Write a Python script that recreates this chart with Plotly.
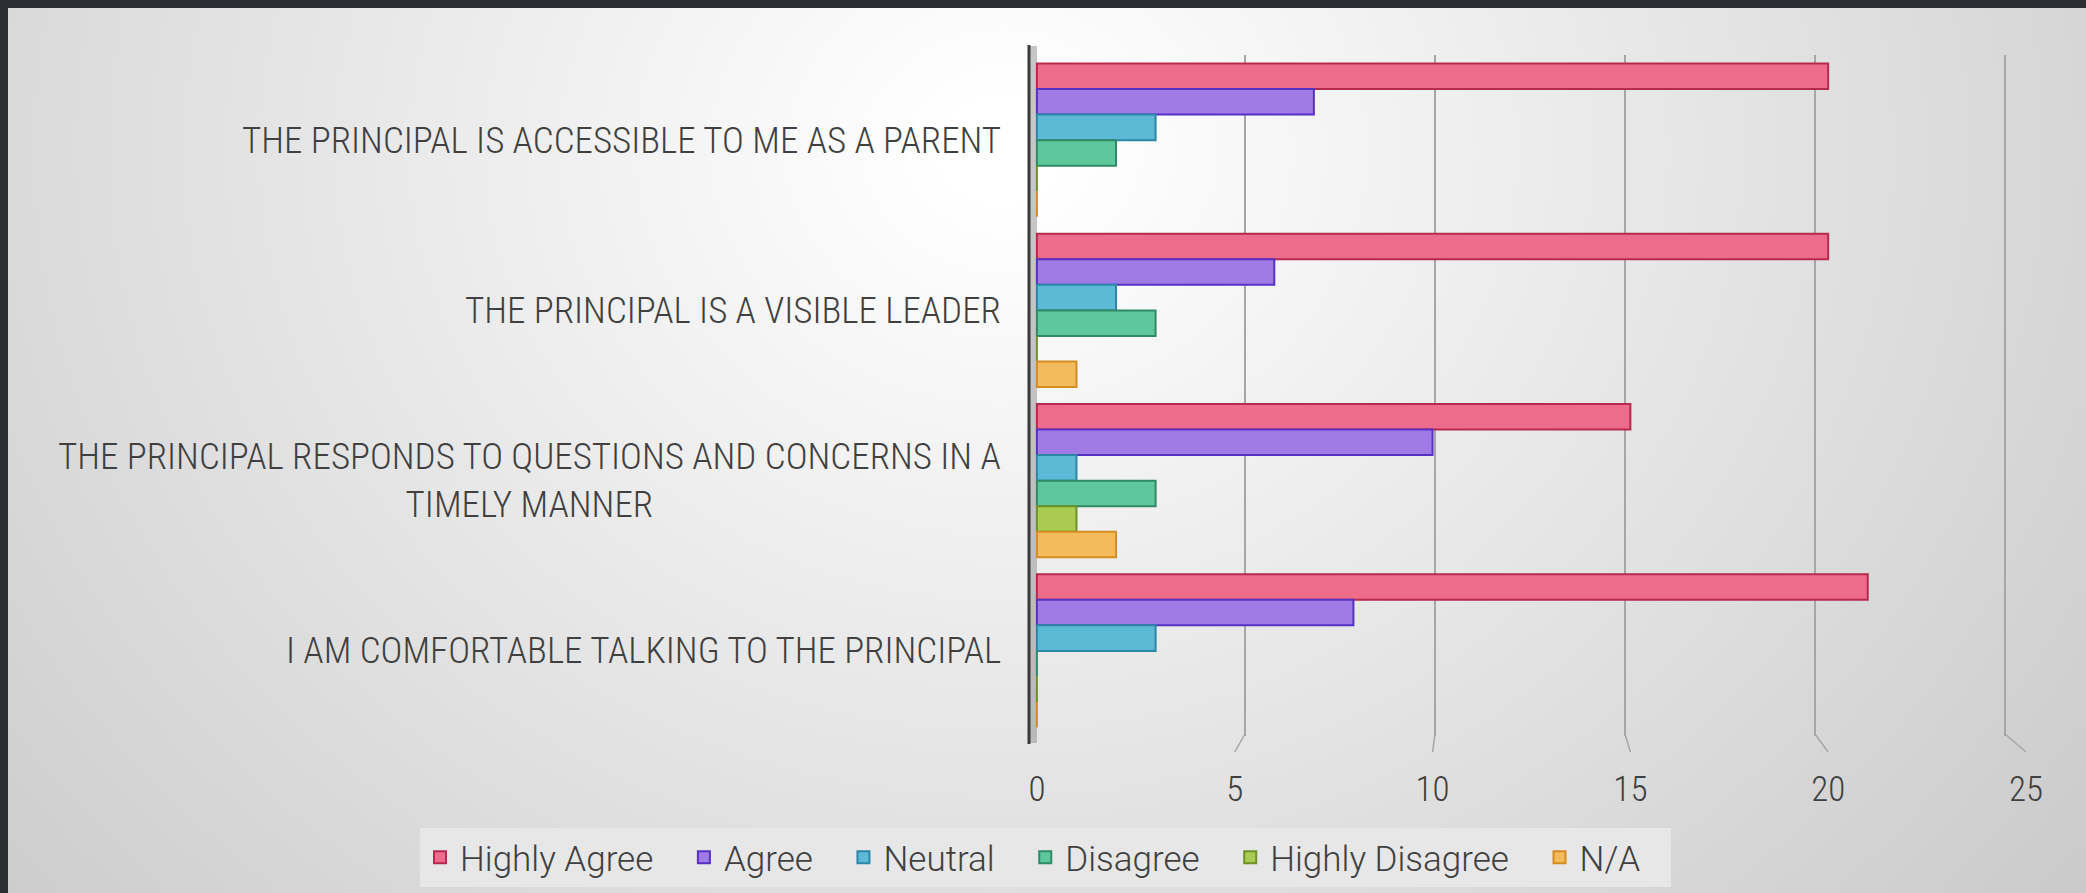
import base64, zlib, struct
import plotly.graph_objects as go

# ---------------- data ----------------
categories = [
    "THE PRINCIPAL IS ACCESSIBLE TO ME AS A PARENT",
    "THE PRINCIPAL IS A VISIBLE LEADER",
    "THE PRINCIPAL RESPONDS TO QUESTIONS AND CONCERNS IN A<br>TIMELY MANNER",
    "I AM COMFORTABLE TALKING TO THE PRINCIPAL",
]
series_names = ["Highly Agree", "Agree", "Neutral", "Disagree", "Highly Disagree", "N/A"]
highly_agree = [20, 20, 15, 21]
agree = [7, 6, 10, 8]
neutral = [3, 2, 1, 3]
disagree = [2, 3, 3, 0]
highly_disagree = [0, 0, 1, 0]
not_applicable = [0, 1, 2, 0]
x_ticks = [0, 5, 10, 15, 20, 25]

series_values = [highly_agree, agree, neutral, disagree, highly_disagree, not_applicable]
fills = ["#EE6C8B", "#A07BE6", "#5DBAD6", "#5FC79C", "#A9CB52", "#F4BB5C"]
edges = ["#B62A4D", "#5532C4", "#2C86A6", "#2E8A67", "#6E9228", "#D48D22"]

# ---------------- layout geometry ----------------
W, H = 2086, 893
L, R, T, B = 1029, 60, 55, 157
PW, PH = W - L - R, H - T - B

def px2x(px):
    return (px - L) / PW

def px2y(py):
    return (H - B - py) / PH

FONT = "Roboto Condensed, Liberation Sans Narrow, Arial Narrow, sans-serif"
LEG_FONT = "Roboto, Lato, sans-serif"
TXT = "#404040"

# ---------------- background gradient png ----------------
def gradient_png(w, h):
    rows = b""
    for j in range(h):
        py = (j + 0.5) * H / h
        row = bytearray([0])
        for i in range(w):
            px = (i + 0.5) * W / w
            d = (((px - 1000) / 1150) ** 2 + ((py - 150) / 1000) ** 2) ** 0.5
            v = int(max(190, min(255, 258 - 46 * d)))
            row.append(v)
        rows += bytes(row)

    def chunk(tag, data):
        return struct.pack(">I", len(data)) + tag + data + struct.pack(">I", zlib.crc32(tag + data) & 0xFFFFFFFF)

    png = b"\x89PNG\r\n\x1a\n"
    png += chunk(b"IHDR", struct.pack(">IIBBBBB", w, h, 8, 0, 0, 0, 0))
    png += chunk(b"IDAT", zlib.compress(rows, 9))
    png += chunk(b"IEND", b"")
    return "data:image/png;base64," + base64.b64encode(png).decode()

bg = gradient_png(261, 112)

fig = go.Figure()

for name, vals, fc, ec in zip(series_names, series_values, fills, edges):
    fig.add_trace(go.Bar(
        name=name + "\u00a0\u00a0\u00a0", y=categories, x=vals, orientation="h",
        marker=dict(color=fc, line=dict(color=ec, width=2)),
    ))

# invisible trace to carry the back-plane grid axis
back0_px, back_unit = 1055, 38.0
fig.add_trace(go.Scatter(x=[0], y=[categories[0]], xaxis="x2", mode="markers",
                         marker=dict(opacity=0), showlegend=False, hoverinfo="skip"))

x_lo = -0.2
x_hi = 25
x_unit = PW / (x_hi - x_lo)
front0_px = L + (0 - x_lo) * x_unit

shapes = []
# wall side panel
shapes.append(dict(type="rect", xref="paper", yref="paper", x0=0, x1=px2x(1037),
                   y0=px2y(743), y1=px2y(46), fillcolor="rgba(130,130,130,0.45)",
                   line=dict(width=0), layer="below"))
# wall edge line
shapes.append(dict(type="line", xref="paper", yref="paper", x0=0, x1=0,
                   y0=px2y(744), y1=px2y(45), line=dict(color="#3A3A3A", width=3)))
# diagonal floor ticks joining back grid to front labels
for v in x_ticks[1:]:
    bx = back0_px + back_unit * v
    fx = front0_px + x_unit * v
    shapes.append(dict(type="line", xref="paper", yref="paper",
                       x0=px2x(bx), x1=px2x(fx), y0=px2y(734), y1=px2y(752),
                       line=dict(color="#A6A6A6", width=1.5)))
# dark slide frame (top and left)
shapes.append(dict(type="rect", xref="paper", yref="paper", x0=px2x(0), x1=px2x(W),
                   y0=px2y(8), y1=px2y(0), fillcolor="#2A2D33", line=dict(width=0)))
shapes.append(dict(type="rect", xref="paper", yref="paper", x0=px2x(0), x1=px2x(8),
                   y0=px2y(H), y1=px2y(0), fillcolor="#2A2D33", line=dict(width=0)))

annotations = []
for c in categories:
    annotations.append(dict(text=c, xref="paper", yref="y", x=px2x(1003), y=c,
                            xanchor="right", yanchor="middle", align="center",
                            showarrow=False,
                            font=dict(family=FONT, size=37, color=TXT, weight=300)))

fig.update_layout(
    width=W, height=H,
    margin=dict(l=L, r=R, t=T, b=B, pad=0, autoexpand=False),
    paper_bgcolor="#E2E2E2",
    plot_bgcolor="rgba(0,0,0,0)",
    barmode="group", bargap=0.1, bargroupgap=0,
    font=dict(family=FONT, size=34, color=TXT),
    images=[dict(source=bg, xref="paper", yref="paper", x=px2x(0), y=px2y(0),
                 sizex=W / PW, sizey=H / PH, sizing="stretch", xanchor="left",
                 yanchor="top", layer="below")],
    xaxis=dict(range=[x_lo, x_hi], tickvals=x_ticks, showgrid=False, zeroline=False,
               ticks="outside", ticklen=22, tickcolor="rgba(0,0,0,0)",
               tickfont=dict(family=FONT, size=35, color=TXT, weight=300), showline=False),
    xaxis2=dict(overlaying="x", range=[(L - back0_px) / back_unit, (L + PW - back0_px) / back_unit],
                tickvals=x_ticks[1:], showgrid=True, gridcolor="#A6A6A6", gridwidth=1.5,
                showticklabels=False, zeroline=False, side="bottom"),
    yaxis=dict(categoryorder="array", categoryarray=categories, autorange="reversed",
               showticklabels=False, showgrid=False, zeroline=False, showline=False),
    legend=dict(orientation="h", x=px2x(420), xanchor="left", y=px2y(828), yanchor="top",
                bgcolor="#E7E7E7", font=dict(family=LEG_FONT, size=35, color=TXT, weight=300),
                itemwidth=30, traceorder="normal"),
    shapes=shapes,
    annotations=annotations,
)

fig.write_html("out.html", config={"displayModeBar": False},
               post_script="document.body.style.margin='0';document.body.style.overflow='hidden';")
